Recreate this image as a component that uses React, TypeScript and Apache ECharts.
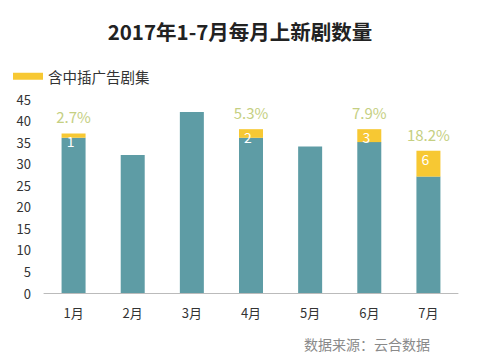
import React, { useEffect, useRef } from "react";
import * as echarts from "echarts";

const months = ["1月", "2月", "3月", "4月", "5月", "6月", "7月"];
const baseEpisodes = [36, 32, 42, 36, 34, 35, 27];
const adEpisodes = [1, null, null, 2, null, 3, 6];
const adShares = ["2.7%", "", "", "5.3%", "", "7.9%", "18.2%"];
const yTicks = { min: 0, max: 45, interval: 5 };

const FONT = "'Noto Sans CJK SC', 'Noto Sans', sans-serif";

export default function App() {
  const ref = useRef<HTMLDivElement>(null);
  useEffect(() => {
    if (!ref.current) return;
    const chart = echarts.init(ref.current, undefined, { renderer: "svg" });
    chart.setOption({
      animation: false,
      backgroundColor: "#ffffff",
      textStyle: { fontFamily: FONT },
      title: {
        text: "2017年1-7月每月上新剧数量",
        left: "center",
        top: 16,
        textStyle: { fontSize: 20.5, fontWeight: "bold", color: "#222", fontFamily: FONT },
      },
      legend: {
        data: ["含中插广告剧集"],
        left: 8,
        top: 64,
        itemWidth: 30,
        itemHeight: 7,
        itemGap: 10,
        icon: "rect",
        textStyle: { fontSize: 14.5, color: "#333", fontFamily: FONT },
      },
      graphic: [
        {
          type: "text",
          right: 50,
          top: 337,
          style: { text: "数据来源：云合数据", fontSize: 14, fill: "#8a8a8a", fontFamily: FONT },
        },
      ],
      grid: { left: 44, right: 22, top: 99, bottom: 71, containLabel: false },
      xAxis: {
        type: "category",
        data: months,
        axisLine: { lineStyle: { color: "#bbbbbb" } },
        axisTick: { show: false },
        axisLabel: { color: "#333", fontSize: 13, margin: 13, fontFamily: FONT },
      },
      yAxis: {
        type: "value",
        min: yTicks.min,
        max: yTicks.max,
        interval: yTicks.interval,
        axisLine: { show: false },
        axisTick: { show: false },
        splitLine: { show: false },
        axisLabel: { color: "#333", fontSize: 13, margin: 13, fontFamily: FONT },
      },
      series: [
        {
          name: "基础",
          type: "bar",
          stack: "total",
          barWidth: 24,
          data: baseEpisodes,
          itemStyle: { color: "#5e9ca5" },
        },
        {
          name: "含中插广告剧集",
          type: "bar",
          stack: "total",
          barWidth: 24,
          data: adEpisodes,
          itemStyle: { color: "#f7c833" },
          label: {
            show: true,
            position: "insideTop",
            distance: 1,
            color: "#ffffff",
            fontSize: 14,
            offset: [-3, 0],
            fontFamily: FONT,
          },
        },
        {
          name: "占比",
          type: "bar",
          stack: "total",
          barWidth: 24,
          data: months.map(() => 0),
          itemStyle: { color: "transparent" },
          label: {
            show: true,
            position: "top",
            distance: 9,
            color: "#c5cf82",
            fontSize: 15,
            fontFamily: FONT,
            formatter: (p: any) => adShares[p.dataIndex],
          },
        },
      ],
    });
    return () => chart.dispose();
  }, []);
  return <div ref={ref} style={{ width: 480, height: 364, position: "absolute", left: 0, top: 0 }} />;
}
